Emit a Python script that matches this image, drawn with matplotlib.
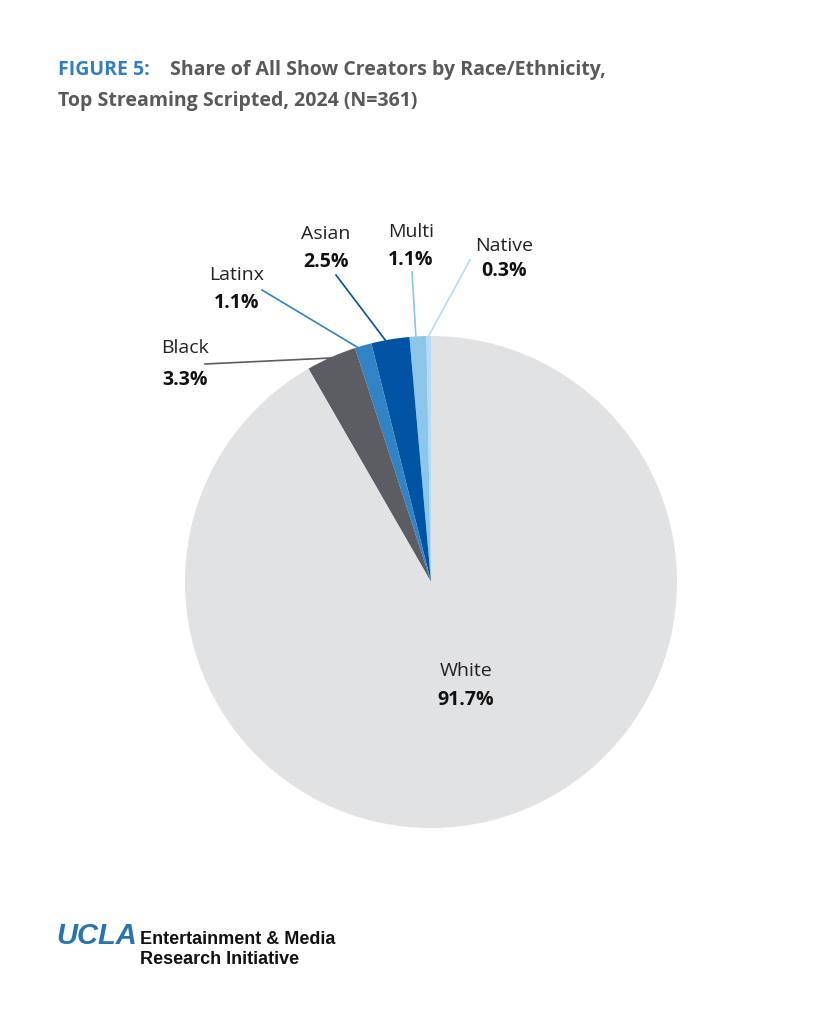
import matplotlib
matplotlib.use("Agg")
import matplotlib.pyplot as plt

labels = ["Native", "Multi", "Asian", "Latinx", "Black", "White"]
values = [0.3, 1.1, 2.5, 1.1, 3.3, 91.7]
colors = ["#b5dcf3", "#8cc6ea", "#0054a3", "#3083c4", "#5b5d62", "#e1e2e4"]
line_colors = ["#b5dcf3", "#8cc6ea", "#0054a3", "#3083c4", "#5b5d62", None]

W, H = 819, 1024
fig = plt.figure(figsize=(W/100, H/100), dpi=100)
cx, cy, R = 431, 582, 246
ax = fig.add_axes([(cx-R)/W, (H-cy-R)/H, 2*R/W, 2*R/H])
ax.pie(values, colors=colors, startangle=90, counterclock=True, radius=1,
       wedgeprops=dict(linewidth=0))
ax.set_xlim(-1, 1); ax.set_ylim(-1, 1); ax.set_aspect("equal"); ax.axis("off")

def d(px, py):
    return ((px-cx)/R, (cy-py)/R)

# label name pos, value pos, line start, line end (pixels)
pos = {
    "Native": ((504, 246), (504, 271), (470, 260), (428, 337)),
    "Multi": ((411, 232), (411, 260), (412, 272), (416, 338)),
    "Asian": ((326, 234), (326, 262), (336, 275), (386, 341)),
    "Latinx": ((237, 275), (237, 303), (262, 290), (362, 350)),
    "Black": ((185, 348), (185, 380), (205, 364), (331, 358)),
    "White": ((466, 671), (466, 700), None, None),
}
font = "Open Sans"
for lab, val, lc in zip(labels, values, line_colors):
    n, v, a, b = pos[lab]
    ax.text(*d(*n), lab, ha="center", va="center", fontsize=14, family=font, color="#222222")
    ax.text(*d(*v), f"{val}%", ha="center", va="center", fontsize=14, family=font,
            fontweight="bold", color="#111111")
    if a is not None:
        (x1, y1), (x2, y2) = d(*a), d(*b)
        ax.plot([x1, x2], [y1, y2], color=lc, lw=1.2, clip_on=False)

fig.text(58/W, 1-70/H, "FIGURE 5:", color="#2f7fc1", fontsize=14, fontweight="bold",
         family=font, va="center")
fig.text(170/W, 1-70/H, "Share of All Show Creators by Race/Ethnicity,", color="#58595b",
         fontsize=14, fontweight="bold", family=font, va="center")
fig.text(58/W, 1-101/H, "Top Streaming Scripted, 2024 (N=361)", color="#58595b",
         fontsize=14, fontweight="bold", family=font, va="center")

fig.text(56/W, 1-936/H, "UCLA", color="#2774ae", fontsize=21, fontweight="bold",
         family="Liberation Sans", style="italic", va="center")
fig.text(140/W, 1-940/H, "Entertainment & Media", color="#111111", fontsize=13,
         fontweight="bold", family="Liberation Sans", va="center")
fig.text(140/W, 1-960/H, "Research Initiative", color="#111111", fontsize=13,
         fontweight="bold", family="Liberation Sans", va="center")

fig.savefig("out.png", dpi=100)
